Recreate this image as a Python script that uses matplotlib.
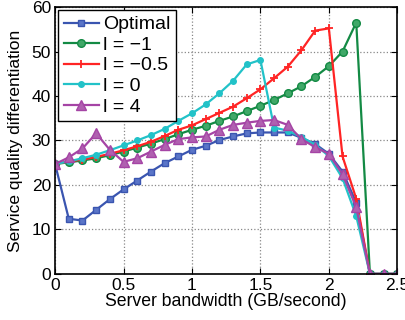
import numpy as np
import matplotlib
matplotlib.use("Agg")
import matplotlib.pyplot as plt

plt.rcParams['font.family'] = ['Liberation Sans', 'DejaVu Sans']

bandwidth = np.round(np.arange(0, 2.51, 0.1), 1)

optimal = [24.7, 12.4, 12.0, 14.4, 16.8, 19.0, 21.0, 23.0, 24.9, 26.4,
           27.9, 28.8, 30.1, 30.9, 31.6, 31.8, 31.8, 31.8, 30.6, 29.2,
           27.0, 23.0, 16.0, 0, 0, 0]
l_neg1 = [24.7, 25.1, 25.5, 26.0, 26.7, 27.5, 28.4, 29.3, 30.3, 31.4,
          32.4, 33.3, 34.4, 35.4, 36.6, 37.8, 39.1, 40.6, 42.2, 44.3,
          46.7, 50.0, 56.5, 0, 0, 0]
l_neg05 = [24.7, 25.3, 25.7, 26.3, 27.0, 27.8, 28.7, 29.7, 31.0, 32.4,
           33.4, 34.8, 36.2, 37.6, 39.5, 41.5, 44.0, 46.6, 50.3, 54.7,
           55.2, 26.4, 16.9, 0, 0, 0]
l_0 = [24.7, 25.3, 26.0, 26.8, 27.8, 28.9, 30.0, 31.2, 32.6, 34.4,
       36.1, 38.1, 40.6, 43.4, 47.1, 48.1, 32.9, 32.2, 30.8, 29.0,
       26.5, 21.5, 13.0, 0, 0, 0]
l_4 = [24.7, 26.2, 28.2, 31.6, 27.9, 25.2, 26.0, 27.5, 29.0, 30.3,
       30.7, 30.9, 32.4, 33.5, 34.0, 34.4, 34.6, 33.5, 30.3, 28.5,
       27.0, 22.4, 15.0, 0, 0, 0]

fig = plt.figure(figsize=(4.05, 3.2), dpi=100)
ax = fig.add_axes([0.136, 0.144, 0.845, 0.834])

ax.plot(bandwidth, optimal, color='#3a55b0', marker='s', ms=5, lw=1.6,
        mfc='#5a75c8', mec='#3a55b0', label='Optimal')
ax.plot(bandwidth, l_neg1, color='#138a44', marker='o', ms=5.5, lw=1.6,
        mfc='#40a868', mec='#138a44', label='l = \u22121')
ax.plot(bandwidth, l_neg05, color='#ff2424', marker='+', ms=6, mew=1.3, lw=1.6,
        label='l = \u22120.5')
ax.plot(bandwidth, l_0, color='#22c2c8', marker='.', ms=8, lw=1.6,
        label='l = 0')
ax.plot(bandwidth, l_4, color='#a544a5', marker='^', ms=6.5, lw=1.6,
        mfc='#b060b0', mec='#a544a5', label='l = 4')

ax.set_xlim(0, 2.5)
ax.set_ylim(0, 60)
ax.set_xticks([0, 0.5, 1, 1.5, 2, 2.5])
ax.set_xticklabels(['0', '0.5', '1', '1.5', '2', '2.5'])
ax.set_yticks(range(0, 61, 10))
ax.tick_params(direction='in', labelsize=12.5, length=4, top=True, right=True)
ax.tick_params(axis='x', pad=3)
ax.tick_params(axis='y', pad=3)
ax.grid(True, linestyle=':', color='#888888', linewidth=0.9)
for s in ax.spines.values():
    s.set_linewidth(1.2)
ax.set_xlabel('Server bandwidth (GB/second)', fontsize=12.7, labelpad=0)
ax.set_ylabel('Service quality differentiation', fontsize=12.5, labelpad=6)

leg = ax.legend(loc='upper left', fontsize=14, fancybox=False, framealpha=1,
                edgecolor='black', borderaxespad=0.15, handlelength=1.8,
                labelspacing=0.15, borderpad=0.3, handletextpad=0.2)
leg.get_frame().set_linewidth(1.0)

fig.savefig('out.png', dpi=100)
